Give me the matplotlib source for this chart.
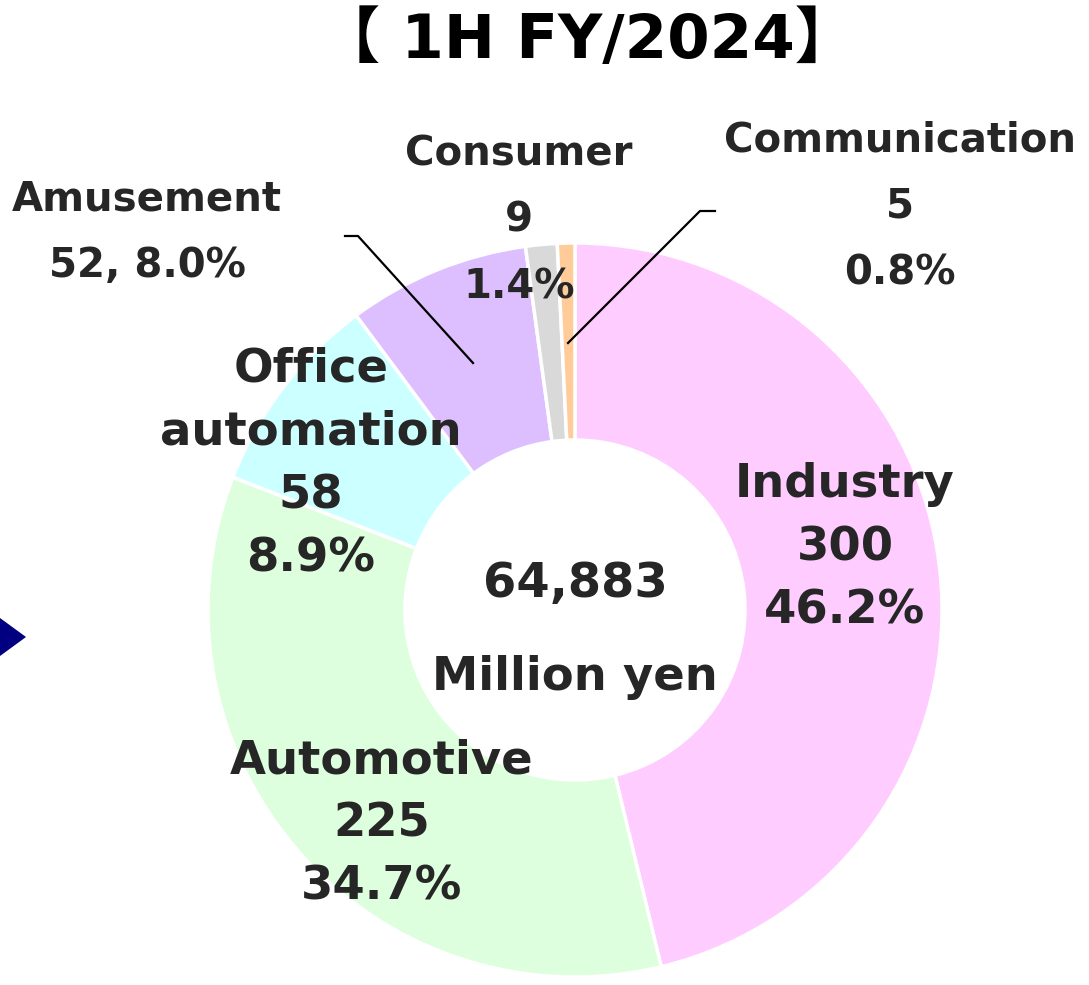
import matplotlib.pyplot as plt
from matplotlib.patches import Polygon

W, H = 1089, 985

segments = ["Industry", "Automotive", "Office\nautomation", "Amusement", "Consumer", "Communication"]
values = [300, 225, 58, 52, 9, 5]
shares = ["46.2%", "34.7%", "8.9%", "8.0%", "1.4%", "0.8%"]
colors = ["#FFCCFF", "#DDFFDD", "#CCFFFF", "#DDBFFF", "#D9D9D9", "#FFCC99"]
total_text = "64,883"
unit_text = "Million yen"
title = "【 1H FY/2024】"

txt = "#262626"

fig = plt.figure(figsize=(W / 100, H / 100), dpi=100)
ax = fig.add_axes([0, 0, 1, 1])


def Y(y):
    # pixel row (from top) -> data y
    return H - y


ax.pie(values, colors=colors, startangle=90, counterclock=False,
       center=(575, Y(610)), radius=367, frame=True,
       wedgeprops=dict(width=197, edgecolor="white", linewidth=2.5))
ax.set_xlim(0, W)
ax.set_ylim(0, H)
ax.set_aspect("equal")
ax.axis("off")

big = dict(fontsize=33.5, fontweight="bold", color=txt, ha="center", va="center",
           linespacing=1.52, family="DejaVu Sans")
small = dict(fontsize=29, fontweight="bold", color=txt, ha="center", va="center",
             linespacing=1.85, family="DejaVu Sans")

ax.text(845, Y(548), f"{segments[0]}\n{values[0]}\n{shares[0]}", **big)
ax.text(382, Y(824), f"{segments[1]}\n{values[1]}\n{shares[1]}", **big)
ax.text(311, Y(464), f"{segments[2]}\n{values[2]}\n{shares[2]}", **big)
ax.text(147, Y(233), f"{segments[3]}\n{values[3]}, {shares[3]}", **small)
ax.text(519, Y(221), f"{segments[4]}\n{values[4]}\n{shares[4]}", **small)
ax.text(900, Y(207), f"{segments[5]}\n{values[5]}\n{shares[5]}", **small)

ax.text(575, Y(583), total_text, **dict(big, fontsize=34.5))
ax.text(575, Y(678), unit_text, **big)

# leader lines
ax.plot([345, 358, 473], [Y(236), Y(236), Y(363)], color="black", lw=1.6)
ax.plot([715, 700, 568], [Y(211), Y(211), Y(343)], color="black", lw=1.6)

# arrow at the left edge
ax.add_patch(Polygon([(0, Y(618)), (26, Y(637)), (0, Y(656))], closed=True,
                     color="#000080", lw=0))

ax.text(587, Y(42), title, fontsize=44, fontweight="bold", color="black",
        ha="center", va="center", family=["DejaVu Sans", "Noto Sans CJK JP"])

fig.savefig("out.png", dpi=100)
